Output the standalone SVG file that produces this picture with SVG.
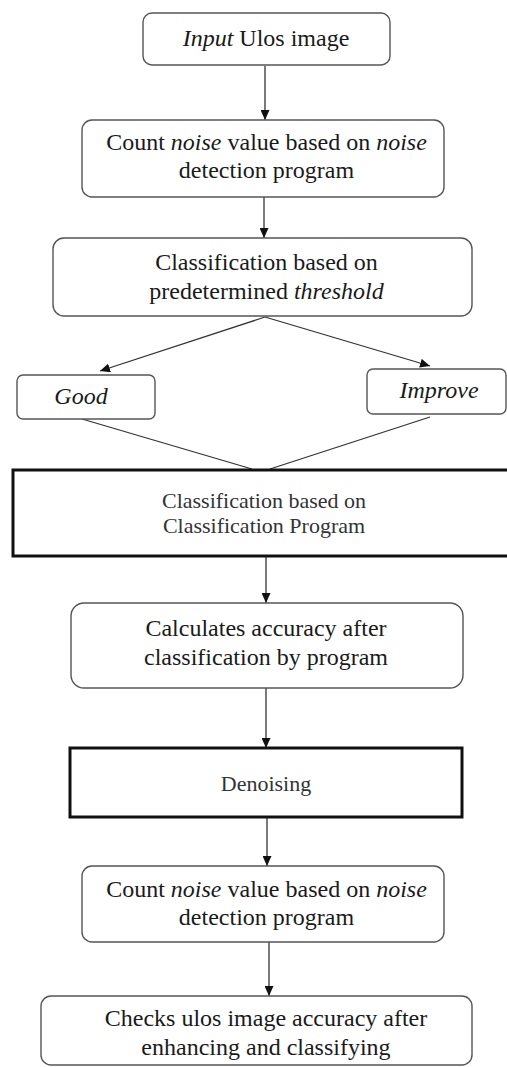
<svg xmlns="http://www.w3.org/2000/svg" width="507" height="1067" viewBox="0 0 507 1067" font-family="'Liberation Serif', 'Times New Roman', serif">
<style>
.rb{fill:#fff;stroke:#555;stroke-width:1.4}
.sq{fill:#fff;stroke:#111;stroke-width:3}
.t{font-size:24px;fill:#1a1a1a;text-anchor:middle}
.t2{font-size:22px;fill:#333;text-anchor:middle}
.c{stroke:#333;stroke-width:1.3;fill:none}
.i{font-style:italic}
</style>
<defs>
<marker id="ah" markerUnits="userSpaceOnUse" markerWidth="10" markerHeight="9" refX="10" refY="4.5" orient="auto">
<path d="M0,0 L10,4.5 L0,9 z" fill="#111"/>
</marker>
</defs>
<g id="connectors">
<line class="c" x1="265" y1="66" x2="265" y2="120" marker-end="url(#ah)"/>
<line class="c" x1="264" y1="197" x2="264" y2="238" marker-end="url(#ah)"/>
<line class="c" x1="265" y1="317" x2="100" y2="371" marker-end="url(#ah)"/>
<line class="c" x1="265" y1="317" x2="430" y2="366" marker-end="url(#ah)"/>
<line class="c" x1="82" y1="419" x2="252" y2="469"/>
<line class="c" x1="430" y1="417" x2="270" y2="469"/>
<line class="c" x1="266" y1="557" x2="266" y2="603" marker-end="url(#ah)"/>
<line class="c" x1="266" y1="688" x2="266" y2="748" marker-end="url(#ah)"/>
<line class="c" x1="267" y1="818" x2="267" y2="866" marker-end="url(#ah)"/>
<line class="c" x1="269" y1="942" x2="269" y2="996" marker-end="url(#ah)"/>
</g>
<g id="n1">
<rect class="rb" x="143" y="13" width="247" height="52" rx="9"/>
<text class="t" x="266" y="46"><tspan class="i">Input</tspan> Ulos image</text>
</g>
<g id="n2">
<rect class="rb" x="82" y="120" width="362" height="77" rx="10"/>
<text class="t" x="266.5" y="150">Count <tspan class="i">noise</tspan> value based on <tspan class="i">noise</tspan></text>
<text class="t" x="266.5" y="178">detection program</text>
</g>
<g id="n3">
<rect class="rb" x="53" y="238" width="419" height="78" rx="11"/>
<text class="t" x="266.5" y="270">Classification based on</text>
<text class="t" x="266.5" y="299">predetermined <tspan class="i">threshold</tspan></text>
</g>
<g id="good">
<rect class="rb" x="17" y="375" width="138" height="44" rx="6"/>
<text class="t i" x="81" y="404">Good</text>
</g>
<g id="improve">
<rect class="rb" x="367" y="369" width="139" height="45" rx="6"/>
<text class="t i" x="439" y="398">Improve</text>
</g>
<g id="n4">
<rect class="sq" x="13" y="470" width="500" height="86"/>
<text class="t2" x="264" y="508">Classification based on</text>
<text class="t2" x="264" y="533">Classification Program</text>
</g>
<g id="n5">
<rect class="rb" x="71" y="603" width="392" height="85" rx="13"/>
<text class="t" x="266" y="636">Calculates accuracy after</text>
<text class="t" x="266" y="665">classification by program</text>
</g>
<g id="n6">
<rect class="sq" x="70" y="748" width="392" height="69"/>
<text class="t2" x="266" y="791">Denoising</text>
</g>
<g id="n7">
<rect class="rb" x="82" y="866" width="362" height="76" rx="10"/>
<text class="t" x="266.5" y="897">Count <tspan class="i">noise</tspan> value based on <tspan class="i">noise</tspan></text>
<text class="t" x="266.5" y="925">detection program</text>
</g>
<g id="n8">
<rect class="rb" x="41" y="996" width="431" height="69" rx="10"/>
<text class="t" x="266" y="1026">Checks ulos image accuracy after</text>
<text class="t" x="266" y="1055">enhancing and classifying</text>
</g>
</svg>
